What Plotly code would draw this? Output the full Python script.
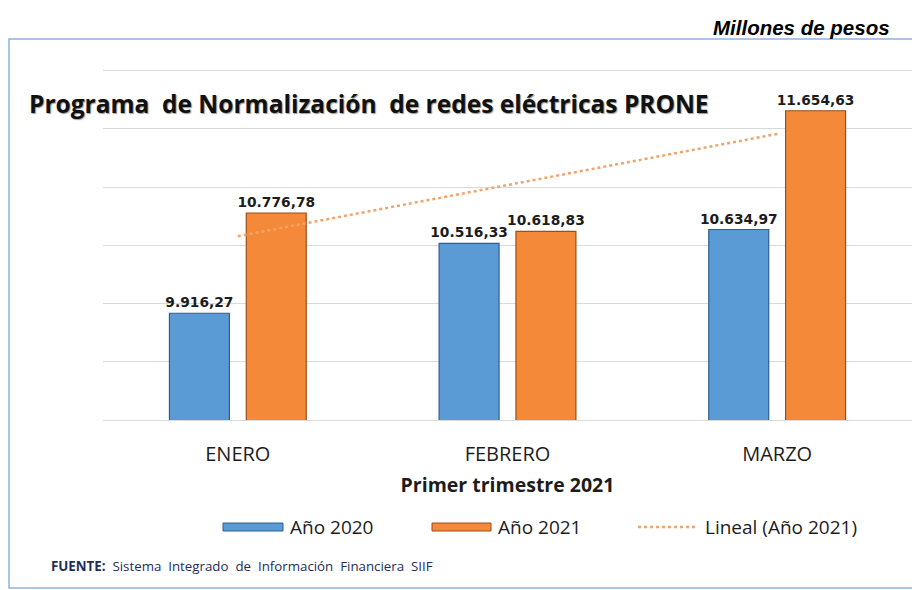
import numpy as np
import plotly.graph_objects as go

meses = ["ENERO", "FEBRERO", "MARZO"]
anio_2020 = [9916.27, 10516.33, 10634.97]
anio_2021 = [10776.78, 10618.83, 11654.63]

# tendencia lineal de 2021 (como la "Lineal" de Excel)
pos = np.arange(1, len(meses) + 1)
pend, corte = np.polyfit(pos, anio_2021, 1)
tendencia = list(pend * pos + corte)

AZUL = "#5B9BD5"
NARANJA = "#F5893A"
TEXTO = "#1c1c1c"
FUENTE = "Open Sans"

fig = go.Figure()
fig.add_trace(go.Bar(x=meses, y=anio_2020, name="Año 2020",
                     marker=dict(color=AZUL, line=dict(color="#2F5F8F", width=1.2)),
                     texttemplate="%{y:,.2f}", textposition="outside", constraintext="none",
                     textfont=dict(family="DejaVu Sans", size=13.8, color=TEXTO, weight="bold"),
                     cliponaxis=False))
fig.add_trace(go.Bar(x=meses, y=anio_2021, name="Año 2021",
                     marker=dict(color=NARANJA, line=dict(color="#9C4E17", width=1.2)),
                     texttemplate="%{y:,.2f}", textposition="outside", constraintext="none",
                     textfont=dict(family="DejaVu Sans", size=13.8, color=TEXTO, weight="bold"),
                     cliponaxis=False))
fig.add_trace(go.Scatter(x=meses, y=tendencia, mode="lines", name="Lineal (Año 2021)",
                         line=dict(color="#F2A36B", width=2.5, dash="dot"),
                         hoverinfo="skip"))

fig.update_yaxes(range=[9000, 12030], tick0=9000, dtick=500, showticklabels=False,
                 showgrid=True, gridcolor="#D9D9D9", gridwidth=1, zeroline=False)
fig.update_xaxes(showline=True, linecolor="#D9D9D9", ticks="",
                 ticklabelstandoff=16,
                 tickfont=dict(family=FUENTE, size=20, color=TEXTO),
                 title=dict(text="<b>Primer trimestre 2021</b>", standoff=12,
                            font=dict(family=FUENTE, size=19.5, color=TEXTO)))

# la pagina tiene 8px de margen; estas funciones pasan pixeles de pantalla a paper
def px_x(p):
    return (p - 103) / 809
def px_y(p):
    return (420 - p) / 353

shapes = [dict(type="rect", xref="paper", yref="paper",
               x0=px_x(9), x1=px_x(930), y0=px_y(588), y1=px_y(39),
               line=dict(color="#8FB4DC", width=1.5), layer="below")]
annots = [
    dict(text="<b>Programa  de Normalización  de redes eléctricas PRONE</b>",
         xref="paper", yref="paper", x=px_x(27), y=px_y(103),
         xanchor="left", yanchor="middle", showarrow=False,
         font=dict(family=FUENTE, size=24.5, color="#111111", shadow="1px 1px 1px #9a9a9a")),
    dict(text="<b><i>Millones de pesos</i></b>",
         xref="paper", yref="paper", x=px_x(892), y=px_y(28),
         xanchor="right", yanchor="middle", showarrow=False,
         font=dict(family="Liberation Sans", size=20.5, color="#000000")),
    dict(text="<b>FUENTE:</b>  Sistema  Integrado  de  Información  Financiera  SIIF",
         xref="paper", yref="paper", x=px_x(49), y=px_y(566),
         xanchor="left", yanchor="middle", showarrow=False,
         font=dict(family=FUENTE, size=13.3, color="#1F2D5A")),
]

# leyenda dibujada a mano para imitar las muestras largas de Excel
leyenda = [("Año 2020", AZUL, "#2F5F8F", 223, 283, "bar"),
           ("Año 2021", NARANJA, "#9C4E17", 432, 491, "bar"),
           ("Lineal (Año 2021)", "#F2A36B", None, 638, 698, "line")]
for nombre, color, borde, xa, xb, tipo in leyenda:
    if tipo == "bar":
        shapes.append(dict(type="rect", xref="paper", yref="paper",
                           x0=px_x(xa), x1=px_x(xb), y0=px_y(531), y1=px_y(523),
                           fillcolor=color, line=dict(color=borde, width=1)))
    else:
        shapes.append(dict(type="line", xref="paper", yref="paper",
                           x0=px_x(xa), x1=px_x(xb), y0=px_y(527), y1=px_y(527),
                           line=dict(color=color, width=2.5, dash="dot")))
    annots.append(dict(text=nombre, xref="paper", yref="paper",
                       x=px_x(xb + 5), y=px_y(527), xanchor="left", yanchor="middle",
                       showarrow=False,
                       font=dict(family=FUENTE, size=19, color=TEXTO)))

fig.update_layout(
    width=912, height=582, autosize=False,
    margin=dict(l=95, r=8, t=59, b=170),
    barmode="group", bargap=0.43, bargroupgap=0.22,
    separators=",.",
    showlegend=False,
    plot_bgcolor="white", paper_bgcolor="white",
    shapes=shapes, annotations=annots,
)

fig.write_html("out.html")
